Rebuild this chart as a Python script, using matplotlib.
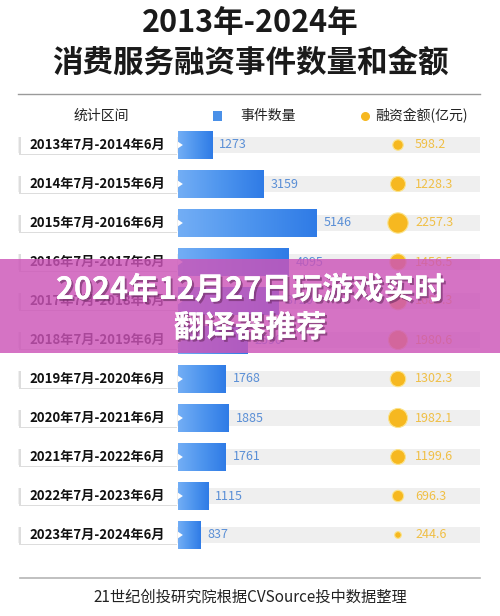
import numpy as np
import matplotlib
matplotlib.use("Agg")
import matplotlib.pyplot as plt
import matplotlib.transforms as mtransforms
import matplotlib.patheffects as pe
from matplotlib.colors import LinearSegmentedColormap
from matplotlib.patches import Rectangle, Polygon

plt.rcParams['font.family'] = ['Noto Sans CJK SC', 'DejaVu Sans']

# === 数据 ===
periods = [
    "2013年7月-2014年6月", "2014年7月-2015年6月", "2015年7月-2016年6月",
    "2016年7月-2017年6月", "2017年7月-2018年6月", "2018年7月-2019年6月",
    "2019年7月-2020年6月", "2020年7月-2021年6月", "2021年7月-2022年6月",
    "2022年7月-2023年6月", "2023年7月-2024年6月",
]
event_counts = [1273, 3159, 5146, 4095, 3720, 2590, 1768, 1885, 1761, 1115, 837]
amounts = [598.2, 1228.3, 2257.3, 1456.5, 1685.3, 1980.6, 1302.3, 1982.1, 1199.6, 696.3, 244.6]
amount_labels = ["598.2", "1228.3", "2257.3", "1456.5", "1685.3", "1980.6",
                 "1302.3", "1982.1", "1199.6", "696.3", "244.6"]

title_1 = "2013年-2024年"
title_2 = "消费服务融资事件数量和金额"
head_period = "统计区间"
head_count = "事件数量"
head_amount = "融资金额(亿元)"
footer = "21世纪创投研究院根据CVSource投中数据整理"
overlay_1 = "2024年12月27日玩游戏实时"
overlay_2 = "翻译器推荐"

W, H = 500, 616
fig = plt.figure(figsize=(W / 100, H / 100), dpi=100)
fig.patch.set_facecolor("white")

# 背景层 (像素坐标)
bg = fig.add_axes([0, 0, 1, 1])
bg.set_xlim(0, W)
bg.set_ylim(H, 0)
bg.axis("off")

# 柱状图层
n = len(periods)
top_px, bot_px = 125.5, 554.5
left_px, right_px = 178, 480
ax = fig.add_axes([left_px / W, 1 - bot_px / H, (right_px - left_px) / W, (bot_px - top_px) / H])
ax.axis("off")
xmax = (right_px - left_px) / 0.027
rows = np.arange(n)

# 行背景 (x 像素, y 行号)
trans_row = mtransforms.blended_transform_factory(bg.transData, ax.transData)
for i in rows:
    bg.add_patch(Rectangle((18, i - 0.2), 462, 0.4, transform=trans_row,
                           facecolor="#efefef", edgecolor="none", zorder=1))
    bg.add_patch(Rectangle((19, i - 0.2), 158, 0.46, transform=trans_row,
                           facecolor="#dddddd", edgecolor="none", zorder=2))
    bg.add_patch(Rectangle((21, i - 0.24), 156, 0.46, transform=trans_row,
                           facecolor="white", edgecolor="none", zorder=3))
    bg.text(97, i, periods[i], transform=trans_row, ha="center", va="center",
            fontsize=9.5, fontweight="bold", color="#111111", zorder=4)

bars = ax.barh(rows, event_counts, height=0.7, color="#4a90e8", zorder=5)
cmap = LinearSegmentedColormap.from_list("bl", ["#73aef5", "#4e95ee", "#2f7be6"])
grad = np.linspace(0, 1, 256).reshape(1, -1)
for b in bars:
    x0, y0 = b.get_x(), b.get_y()
    w, h = b.get_width(), b.get_height()
    im = ax.imshow(grad, extent=[x0, x0 + w, y0 + h, y0], aspect="auto",
                   cmap=cmap, zorder=6)
    im.set_clip_path(b)
    ax.add_patch(Polygon([[x0, y0 + h * 0.38], [x0 + 180, y0 + h * 0.5], [x0, y0 + h * 0.62]],
                         closed=True, facecolor="white", edgecolor="none", zorder=7))

for i, v in enumerate(event_counts):
    ax.text(v + 260, i, str(v), ha="left", va="center", fontsize=9,
            color="#5a8fd6", zorder=8)

trans_amt = mtransforms.blended_transform_factory(bg.transData, ax.transData)
ax.scatter([398] * n, rows, s=[a * 0.095 for a in amounts], transform=trans_amt,
           color="#f6b820", edgecolors="#fbe38a", linewidths=0.8, zorder=8, clip_on=False)
for i, t in enumerate(amount_labels):
    ax.text(415, i, t, transform=trans_amt, ha="left", va="center", fontsize=9,
            color="#f0bf45", zorder=8, clip_on=False)

ax.set_xlim(0, xmax)
ax.set_ylim(n - 0.5, -0.5)

# 标题
bg.text(250, 23, title_1, ha="center", va="center", fontsize=22, fontweight="bold", color="#1a1a1a")
bg.text(250, 63, title_2, ha="center", va="center", fontsize=22, fontweight="bold", color="#1a1a1a")
bg.plot([18, 480], [94, 94], color="#9a9a9a", lw=1)

# 表头
bg.text(101, 116, head_period, ha="center", va="center", fontsize=10, color="#222222")
bg.add_patch(Rectangle((213, 111), 9, 10, facecolor="#4a90e8", edgecolor="none"))
bg.text(240, 116, head_count, ha="left", va="center", fontsize=10, color="#222222")
bg.scatter([365], [116], s=30, color="#f6b820", zorder=5)
bg.text(375, 116, head_amount, ha="left", va="center", fontsize=10, color="#222222")

# 底部
bg.plot([20, 480], [578, 578], color="#b5b5b5", lw=1.2)
bg.text(250, 597, footer, ha="center", va="center", fontsize=11, color="#222222")

# 覆盖层 (最上层)
top = fig.add_axes([0, 0, 1, 1])
top.set_xlim(0, W)
top.set_ylim(H, 0)
top.axis("off")
top.patch.set_alpha(0)
top.add_patch(Rectangle((0, 259), W, 94, facecolor=(0.80, 0.33, 0.72), alpha=0.82,
                        edgecolor="none"))
shadow = [pe.withSimplePatchShadow(offset=(1.5, -1.5), shadow_rgbFace="#6a2a60", alpha=0.6), pe.Normal()]
top.text(250, 290, overlay_1, ha="center", va="center", fontsize=22, fontweight="bold",
         color="white", path_effects=shadow)
top.text(250, 328, overlay_2, ha="center", va="center", fontsize=22, fontweight="bold",
         color="white", path_effects=shadow)

fig.savefig("out.png", dpi=100)
